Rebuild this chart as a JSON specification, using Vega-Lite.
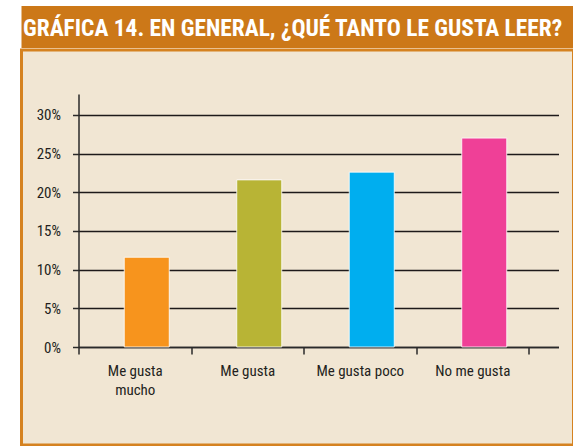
{
  "$schema": "https://vega.github.io/schema/vega-lite/v6.json",
  "background": "#ffffff",
  "padding": {"left": 19.5, "top": 6, "right": 0, "bottom": 0},
  "spacing": 0,
  "config": {
    "view": {"stroke": null},
    "font": "Liberation Sans Narrow, Roboto Condensed, DejaVu Sans Condensed, Arial Narrow, sans-serif"
  },
  "vconcat": [
    {
      "width": 552,
      "height": 42,
      "view": {"fill": "#cc7818", "stroke": null},
      "data": {"values": [{"titulo": "GRÁFICA 14. EN GENERAL, ¿QUÉ TANTO LE GUSTA LEER?"}]},
      "mark": {"type": "text", "clip": true, "align": "left", "baseline": "alphabetic", "fontSize": 23.4, "fontWeight": "bold", "color": "#ffffff"},
      "encoding": {
        "text": {"field": "titulo"},
        "x": {"value": 1.5},
        "y": {"value": 30}
      }
    },
    {
      "width": 552,
      "height": 395,
      "view": {"fill": "#f1e6d3", "stroke": "#d58220", "strokeWidth": 3},
      "data": {"values": [
        {"categoria": "Me gusta mucho", "porcentaje": 11.6},
        {"categoria": "Me gusta", "porcentaje": 21.6},
        {"categoria": "Me gusta poco", "porcentaje": 22.6},
        {"categoria": "No me gusta", "porcentaje": 27.0}
      ]},
      "mark": {"type": "bar", "width": {"band": 0.4}, "xOffset": 12, "stroke": "#ffffff", "strokeWidth": 1, "strokeOpacity": 0.8},
      "encoding": {
        "x": {
          "field": "categoria", "type": "nominal", "sort": null,
          "scale": {"range": [57, 537], "paddingInner": 0, "paddingOuter": 0.13333, "align": 0},
          "axis": {
            "orient": "bottom", "offset": -98, "title": null, "tickBand": "extent",
            "tickSize": 7, "tickColor": "#2a2a2a", "tickWidth": 1.5,
            "domainColor": "#2a2a2a", "domainWidth": 1.5,
            "labelAngle": 0, "labelFontSize": 15, "labelColor": "#231f20",
            "labelPadding": 9, "labelLineHeight": 19, "labelBaseline": "top",
            "labelExpr": "datum.label == 'Me gusta mucho' ? ['Me gusta', 'mucho'] : datum.label",
            "grid": false, "zindex": 0
          }
        },
        "y": {
          "field": "porcentaje", "type": "quantitative",
          "scale": {"domain": [0, 32.7], "range": [297, 44], "nice": false, "zero": true},
          "axis": {
            "orient": "left", "offset": -57, "title": null,
            "values": [0, 5, 10, 15, 20, 25, 30],
            "labelExpr": "datum.value + '%'",
            "tickSize": 6, "tickColor": "#2a2a2a", "tickWidth": 1.5,
            "domainColor": "#2a2a2a", "domainWidth": 1.5,
            "labelFontSize": 15, "labelColor": "#231f20", "labelPadding": 12,
            "grid": true, "gridColor": "#1e1a1a", "gridWidth": 1.5, "zindex": 0
          }
        },
        "color": {
          "field": "categoria", "type": "nominal",
          "scale": {
            "domain": ["Me gusta mucho", "Me gusta", "Me gusta poco", "No me gusta"],
            "range": ["#f7941d", "#b8b435", "#00aeef", "#ef4097"]
          },
          "legend": null
        }
      }
    }
  ]
}
